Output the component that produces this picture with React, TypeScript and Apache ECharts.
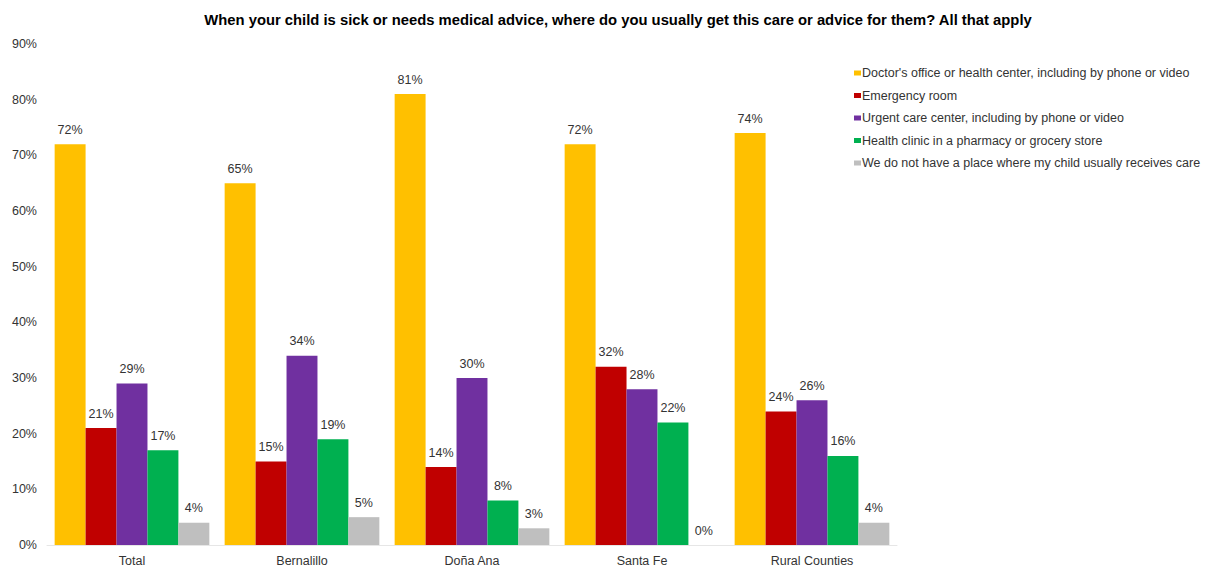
import React, { useEffect, useRef } from "react";
import * as echarts from "echarts";

const categories = ["Total", "Bernalillo", "Doña Ana", "Santa Fe", "Rural Counties"];
const seriesNames = [
  "Doctor's office or health center, including by phone or video",
  "Emergency room",
  "Urgent care center, including by phone or video",
  "Health clinic in a pharmacy or grocery store",
  "We do not have a place where my child usually receives care",
];
const doctorOffice = [72, 65, 81, 72, 74];
const emergencyRoom = [21, 15, 14, 32, 24];
const urgentCare = [29, 34, 30, 28, 26];
const healthClinic = [17, 19, 8, 22, 16];
const noPlace = [4, 5, 3, 0, 4];
const colors = ["#FFC000", "#C00000", "#7030A0", "#00B050", "#BFBFBF"];
const titleText =
  "When your child is sick or needs medical advice, where do you usually get this care or advice for them? All that apply";

export default function App() {
  const ref = useRef<HTMLDivElement>(null);
  useEffect(() => {
    if (!ref.current) return;
    const chart = echarts.init(ref.current, null, { renderer: "svg" });
    const data = [doctorOffice, emergencyRoom, urgentCare, healthClinic, noPlace];
    chart.setOption({
      animation: false,
      textStyle: { fontFamily: "Liberation Sans, Arial, sans-serif" },
      title: {
        text: titleText,
        left: 613,
        textAlign: "center",
        top: 7,
        textStyle: { fontSize: 14.8, fontWeight: "bold", color: "#000" },
      },
      legend: {
        orient: "vertical",
        left: 849,
        top: 61,
        itemWidth: 7,
        itemHeight: 5,
        itemGap: 8.5,
        icon: "rect",
        textStyle: { fontSize: 12.5, lineHeight: 14, color: "#333", padding: [0, 0, 0, -4] },
        data: seriesNames,
      },
      grid: {
        left: 47,
        right: 309,
        top: 44,
        bottom: 24,
        containLabel: false,
        outerBoundsMode: "none",
      },
      xAxis: {
        type: "category",
        data: categories,
        axisLine: { show: true, lineStyle: { color: "#e6e6e6" } },
        axisTick: { show: false },
        axisLabel: { fontSize: 12.5, color: "#333", margin: 9 },
      },
      yAxis: {
        type: "value",
        min: 0,
        max: 90,
        interval: 10,
        splitLine: { show: false },
        axisLine: { show: false },
        axisTick: { show: false },
        axisLabel: { formatter: "{value}%", fontSize: 12.5, color: "#333", margin: 10 },
      },
      series: seriesNames.map((name, i) => ({
        name,
        type: "bar",
        data: data[i],
        barGap: "0%",
        barCategoryGap: "9%",
        itemStyle: { color: colors[i] },
        label: {
          show: true,
          position: "top",
          formatter: "{c}%",
          fontSize: 12.5,
          color: "#333",
          distance: 8,
        },
      })),
    });
    return () => chart.dispose();
  }, []);
  return (
    <div
      ref={ref}
      style={{ position: "absolute", left: 0, top: 0, width: 1206, height: 569 }}
    />
  );
}
